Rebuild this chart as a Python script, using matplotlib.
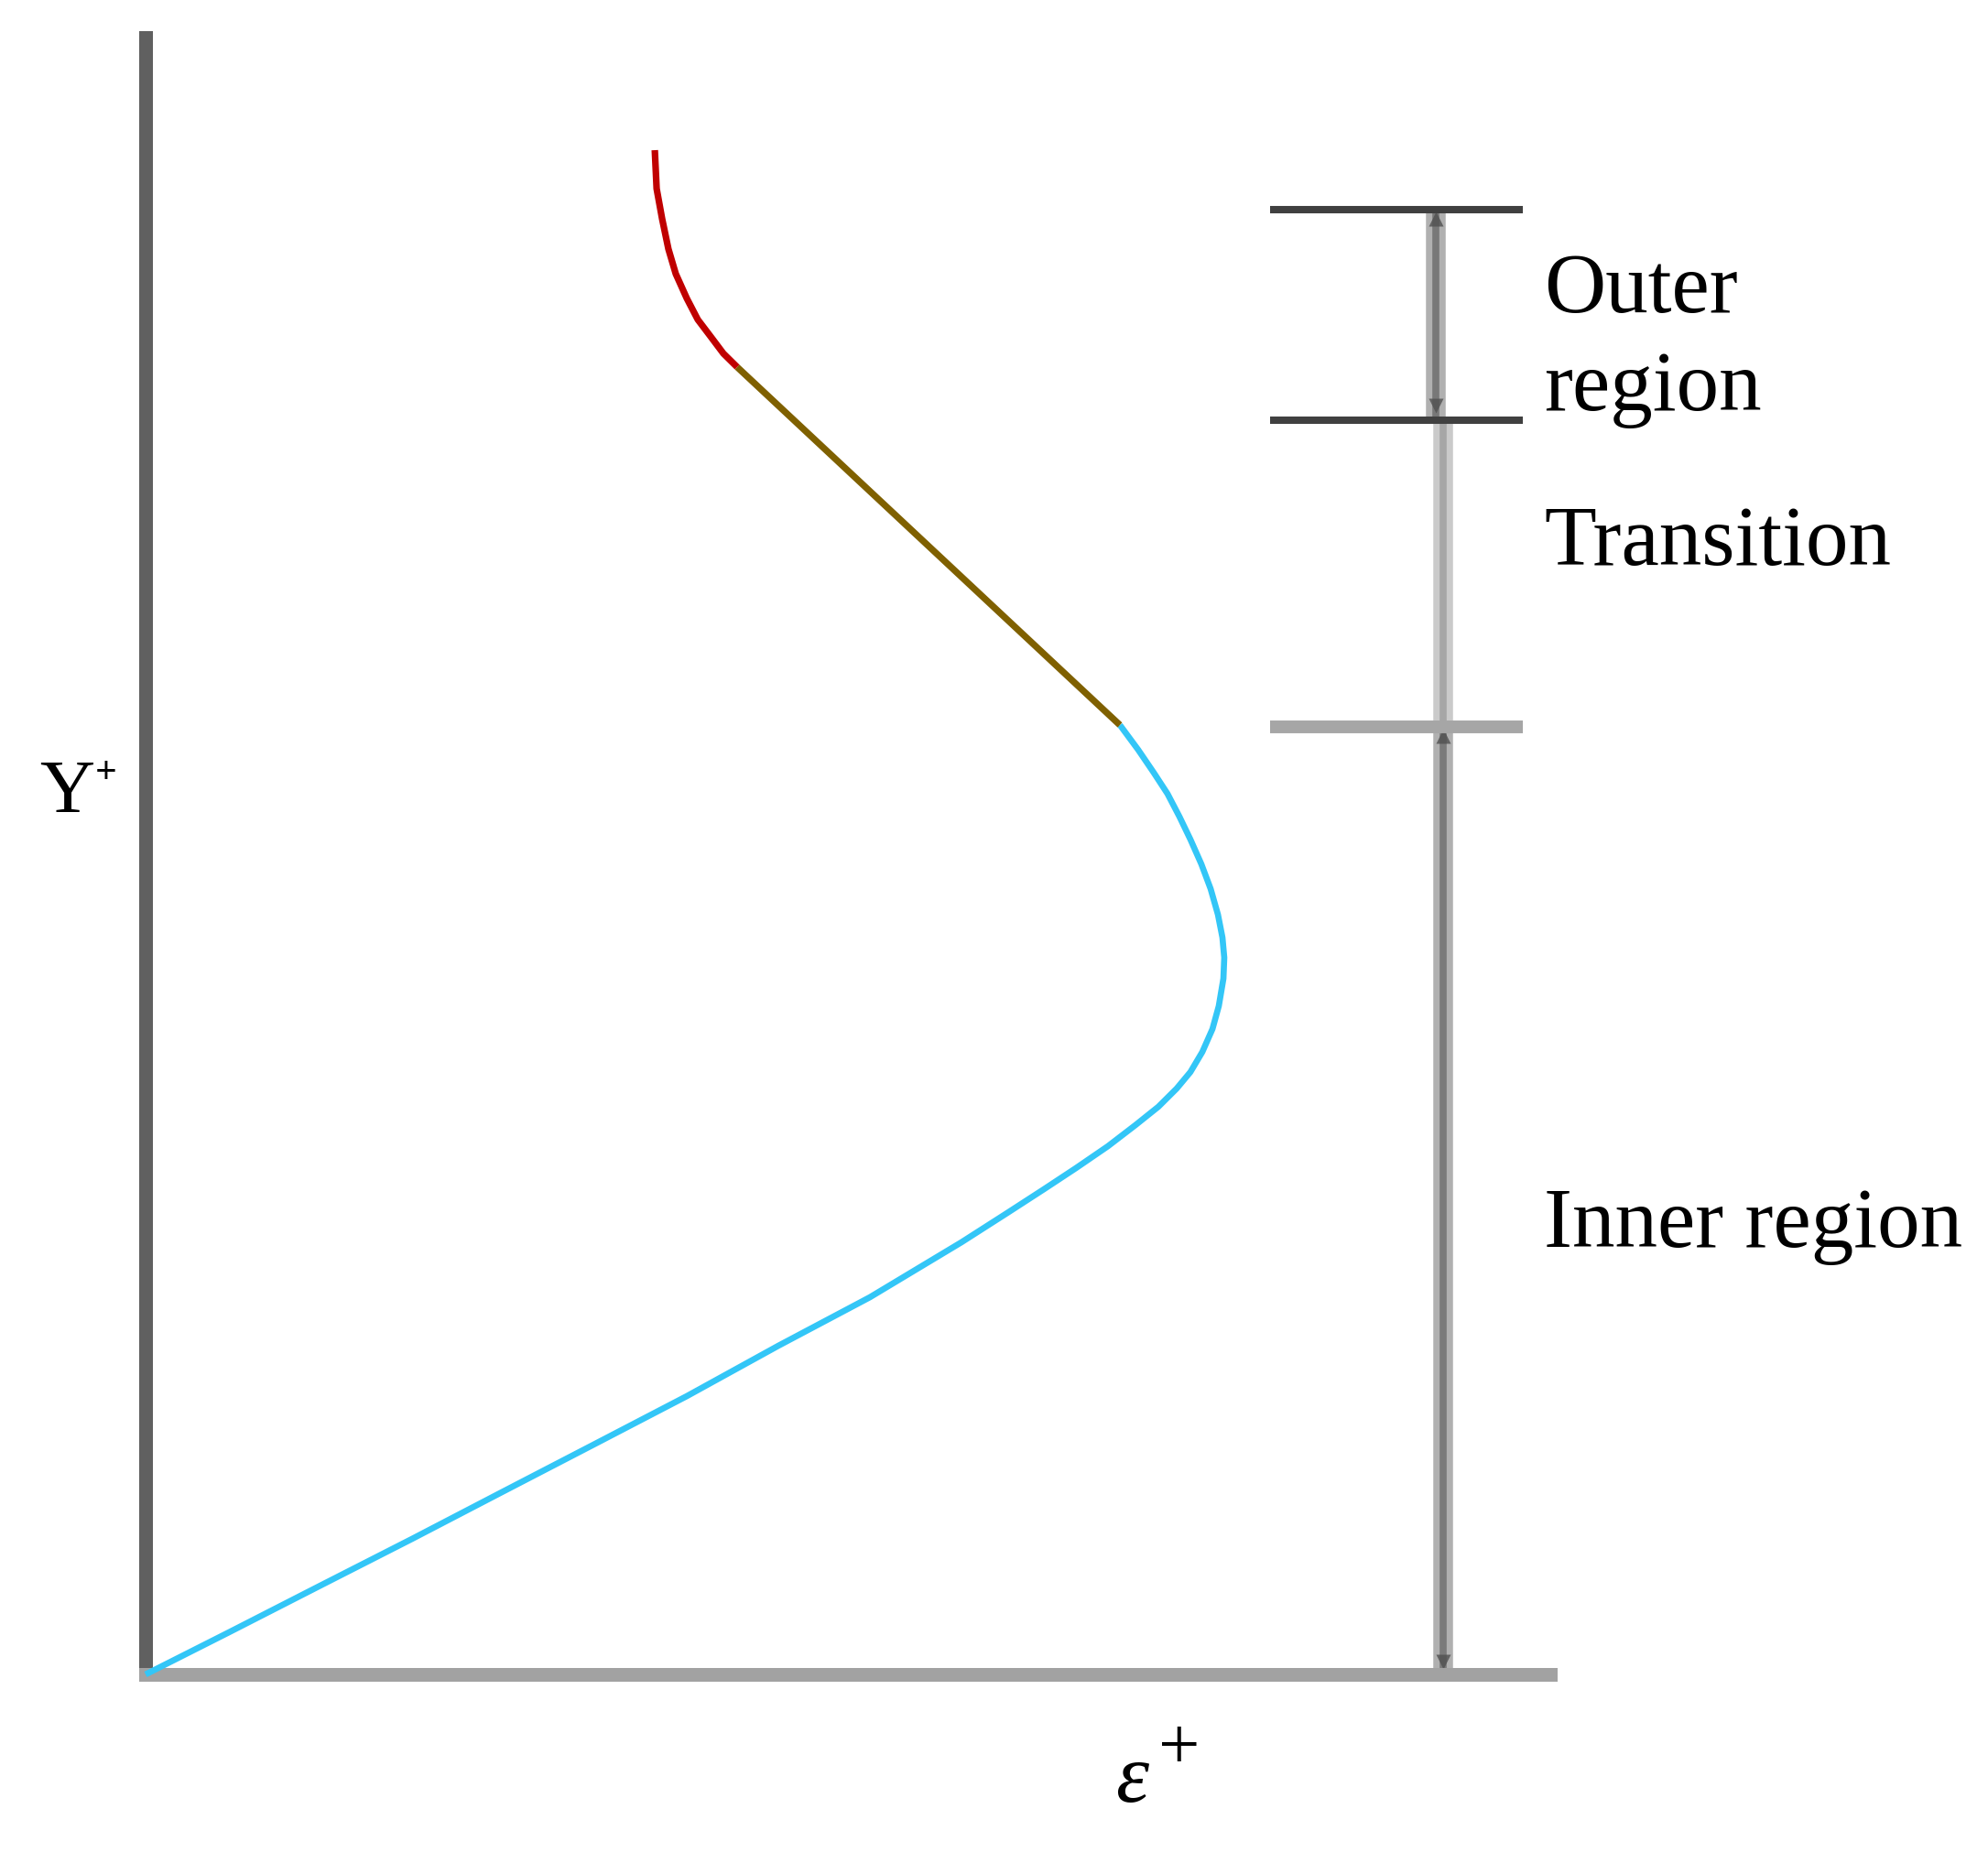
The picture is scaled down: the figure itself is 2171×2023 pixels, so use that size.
import matplotlib
matplotlib.use("Agg")
import matplotlib.pyplot as plt

# ---- data (eps+ in 0..100, Y+ in 0..100) ----
inner_eps = [0.0, 5.93, 12.45, 18.97, 25.49, 32.01, 38.53, 45.05, 51.56, 54.82,
             58.08, 61.34, 63.95, 66.23, 68.51, 70.47, 72.10, 73.40, 74.38, 75.23,
             75.95, 76.40, 76.73, 76.79, 76.66, 76.34, 75.82, 75.16, 74.38, 73.60,
             72.75, 71.77, 70.66, 69.36]
inner_y = [0.0, 2.57, 5.43, 8.28, 11.19, 14.09, 17.00, 20.08, 23.04, 24.72,
           26.40, 28.19, 29.64, 30.93, 32.27, 33.56, 34.68, 35.79, 36.80, 38.03,
           39.43, 40.83, 42.51, 43.79, 45.02, 46.42, 47.99, 49.50, 51.01, 52.40,
           53.80, 55.09, 56.49, 58.00]

trans_eps = [69.36, 42.11]
trans_y = [58.00, 79.87]

outer_eps = [42.11, 41.13, 40.29, 39.31, 38.53, 37.74, 37.22, 36.77, 36.38, 36.25]
outer_y = [79.87, 80.70, 81.66, 82.77, 84.06, 85.57, 87.08, 88.93, 90.77, 93.12]

# region boundaries (Y+) and labels
bound_outer_top = 89.5
bound_outer_trans = 76.6
bound_trans_inner = 57.9
region_labels = ["Outer\nregion", "Transition", "Inner region"]

W, H = 2171, 2024
fig = plt.figure(figsize=(W / 100, H / 100), dpi=100)
ax = fig.add_axes([159 / W, (H - 1830) / H, 1534 / W, 1788 / H])
ax.set_xlim(0, 100)
ax.set_ylim(0, 100)
ax.set_xticks([])
ax.set_yticks([])
for s in ["top", "right"]:
    ax.spines[s].set_visible(False)
ax.spines["left"].set_color("#606060")
ax.spines["left"].set_linewidth(10.8)
ax.spines["left"].set_capstyle("projecting")
ax.spines["bottom"].set_color("#a2a2a2")
ax.spines["bottom"].set_linewidth(10.8)
ax.spines["bottom"].set_capstyle("projecting")
ax.spines["bottom"].set_zorder(3)
ax.spines["left"].set_zorder(2.5)

# curve
ax.plot(inner_eps, inner_y, color="#33c6f7", lw=4.8, solid_capstyle="butt",
        solid_joinstyle="round", clip_on=False, zorder=4)
ax.plot(trans_eps, trans_y, color="#7f6000", lw=5.2, solid_capstyle="butt",
        clip_on=False, zorder=4)
ax.plot(outer_eps, outer_y, color="#c00000", lw=5.2, solid_capstyle="butt",
        solid_joinstyle="round", clip_on=False, zorder=4)

# region annotation lines
hx0, hx1 = 80.05, 98.04
ax.plot([hx0, hx1], [bound_outer_top] * 2, color="#404040", lw=5.8,
        solid_capstyle="butt", clip_on=False, zorder=3)
ax.plot([hx0, hx1], [bound_outer_trans] * 2, color="#404040", lw=5.8,
        solid_capstyle="butt", clip_on=False, zorder=3)
ax.plot([hx0, hx1], [bound_trans_inner] * 2, color="#a6a6a6", lw=10.0,
        solid_capstyle="butt", clip_on=False, zorder=3)

bx_outer, bx_rest = 91.85, 92.37
# outer segment
ax.plot([bx_outer] * 2, [bound_outer_top, bound_outer_trans], color="#b0b0b0",
        lw=15.5, solid_capstyle="butt", zorder=2, clip_on=False)
ax.plot([bx_outer] * 2, [bound_outer_top, bound_outer_trans], color="#787878",
        lw=5.5, solid_capstyle="butt", zorder=2.1, clip_on=False)
# transition segment
ax.plot([bx_rest] * 2, [bound_outer_trans, bound_trans_inner], color="#cacaca",
        lw=15.5, solid_capstyle="butt", zorder=2, clip_on=False)
ax.plot([bx_rest] * 2, [bound_outer_trans, bound_trans_inner], color="#a6a6a6",
        lw=5.5, solid_capstyle="butt", zorder=2.1, clip_on=False)
# inner segment
ax.plot([bx_rest] * 2, [bound_trans_inner, 0], color="#b0b0b0",
        lw=15.5, solid_capstyle="butt", zorder=2, clip_on=False)
ax.plot([bx_rest] * 2, [bound_trans_inner, 0], color="#7a7a7a",
        lw=5.5, solid_capstyle="butt", zorder=2.1, clip_on=False)

# small arrow heads
heads = [(bx_outer, bound_outer_top - 0.6, "^"), (bx_outer, bound_outer_trans + 0.9, "v"),
         (bx_rest, bound_trans_inner - 0.6, "^"), (bx_rest, 0.8, "v")]
for hx, hy, m in heads:
    ax.plot([hx], [hy], marker=m, ms=11, color="#505050", alpha=0.8,
            mec="none", zorder=2.2, clip_on=False)

serif = ["Liberation Serif", "DejaVu Serif"]
fs = 67
ax.text(99.54, 83.28, "Outer", fontsize=fs, family=serif, va="baseline", ha="left")
ax.text(99.54, 77.29, "region", fontsize=fs, family=serif, va="baseline", ha="left")
ax.text(99.54, 67.84, region_labels[1], fontsize=fs, family=serif, va="baseline", ha="left")
ax.text(99.54, 26.17, region_labels[2], fontsize=fs, family=serif, va="baseline", ha="left")

# axis labels
ax.text(-7.56, 52.74, "Y", fontsize=60, family=serif, va="baseline", ha="left")
ax.text(-2.8, 55.09, "+", fontsize=30, family=serif, va="center", ha="center",
        fontweight="bold")
ax.text(69.04, -7.72, "ε", fontsize=66, family=serif, style="italic",
        va="baseline", ha="left")
ax.text(73.6, -4.59, "+", fontsize=58, family=serif, va="center", ha="center")

fig.savefig("out.png", dpi=100, facecolor="white")
